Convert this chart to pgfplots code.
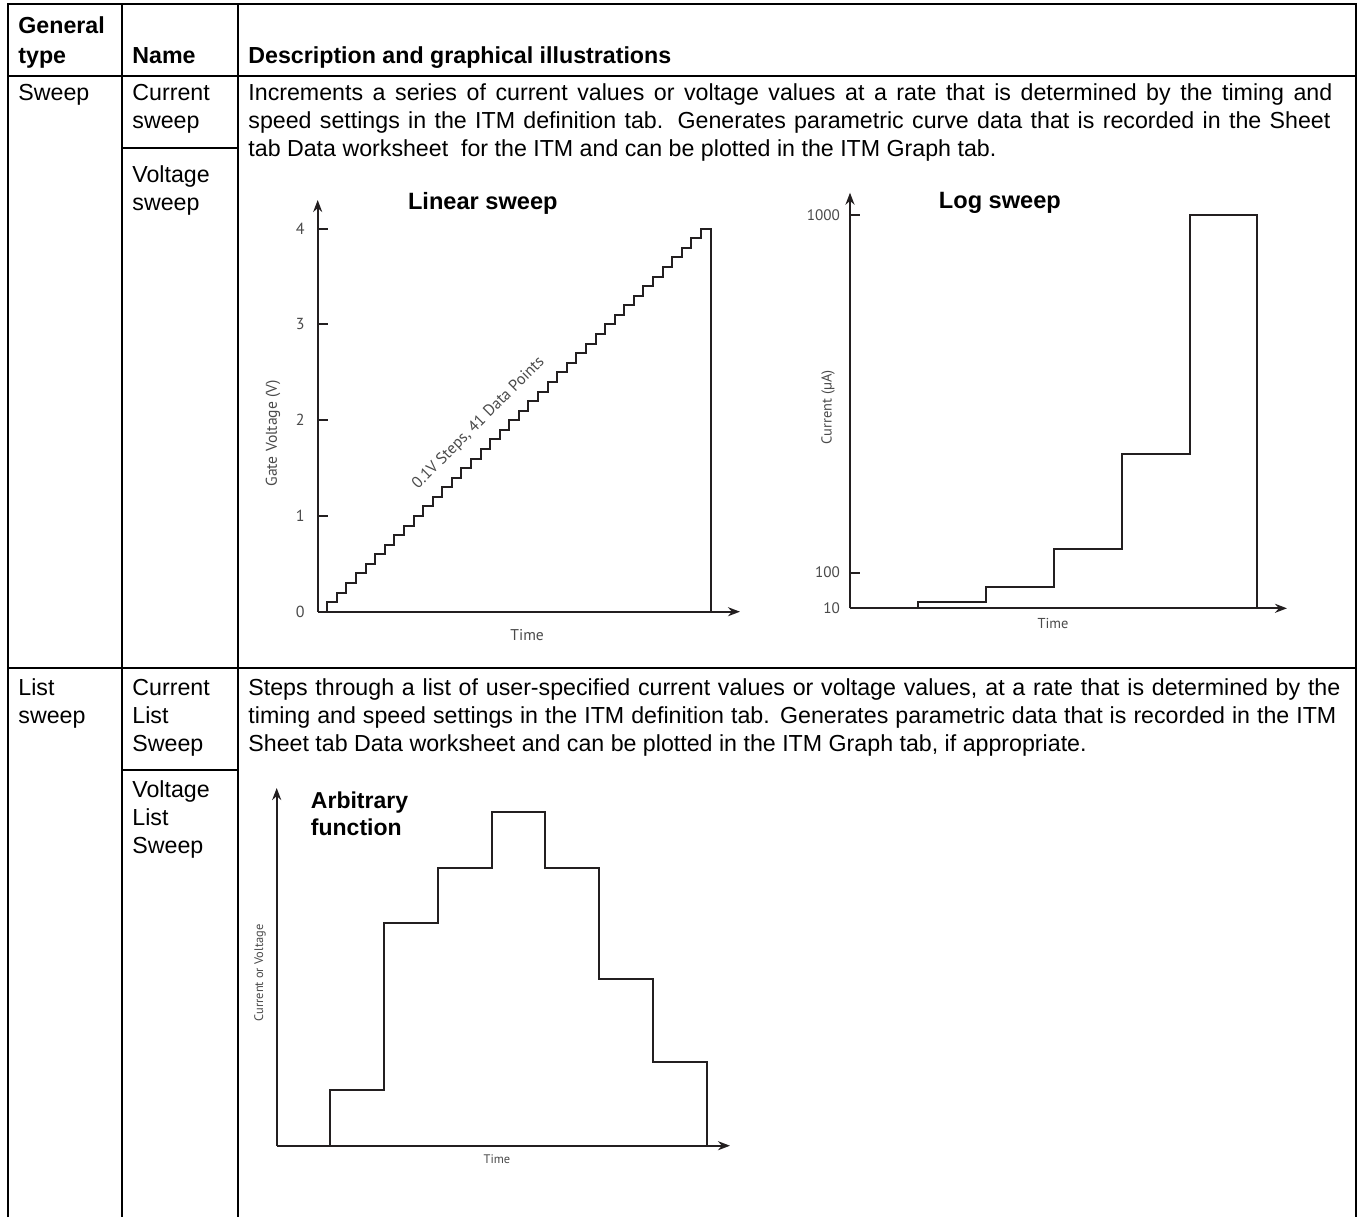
\documentclass[border=0pt]{standalone}
\usepackage{pgfplots}
\pgfplotsset{compat=1.18}
\usetikzlibrary{arrows.meta}
\usepackage{fontspec}
\setmainfont{Liberation Sans}
\newfontfamily\plotfont{PT Sans}
\definecolor{ink}{HTML}{231F20}
\definecolor{lbl}{HTML}{4A4A4A}
\newcommand{\body}{\fontsize{11.6}{14}\selectfont}
\newcommand{\jline}[2][543pt]{\makebox[#1][s]{#2}}
\pgfplotsset{
  stairaxis/.style={
    scale only axis, anchor=south west, clip=false,
    axis lines=left,
    axis line style={line width=1pt, ink},
    every outer x axis line/.append style={-{Stealth[length=6pt,width=4.5pt]}},
    every outer y axis line/.append style={-{Stealth[length=6pt,width=4.5pt]}},
    tick align=inside, major tick length=5pt,
    tick style={line width=1pt, ink},
    /pgf/number format/assume math mode=true,
    xtick=\empty,
    xlabel={Time},
  }
}
\begin{document}
\begin{tikzpicture}
\begin{scope}[x=0.5pt,y=-0.5pt]
\fill[white] (0,0) rectangle (1361,1217);
\path[use as bounding box] (0,0) rectangle (1361,1217);
% table rules
\draw[line width=1pt, line join=miter] (8,1217) -- (8,4) -- (1356,4) -- (1356,1217);
\draw[line width=1pt] (8,76) -- (1356,76);
\draw[line width=1pt] (8,668) -- (1356,668);
\draw[line width=1pt] (122,4) -- (122,1217);
\draw[line width=1pt] (238,4) -- (238,1217);
\draw[line width=1pt] (122,148) -- (238,148);
\draw[line width=1pt] (122,770) -- (238,770);
% header
\begin{scope}[every node/.style={anchor=base west, inner sep=0pt, font=\body\bfseries}]
\node at (18,33) {General};
\node at (18,63) {type};
\node at (132,63) {Name};
\node at (248,63) {Description and graphical illustrations};
\end{scope}
% body
\begin{scope}[every node/.style={anchor=base west, inner sep=0pt, font=\body}]
\node at (18,100) {Sweep};
\node at (132,100) {Current};
\node at (132,128) {sweep};
\node at (132,182) {Voltage};
\node at (132,210) {sweep};
\node at (248,100) {\jline[542pt]{Increments a series of current values or voltage values at a rate that is determined by the timing and}};
\node at (248,128) {\jline[541pt]{speed settings in the ITM definition tab. Generates parametric curve data that is recorded in the Sheet}};
\node at (248,156) {tab Data worksheet\ \ for the ITM and can be plotted in the ITM Graph tab.};
\node at (18,695) {List};
\node at (18,723) {sweep};
\node at (132,695) {Current};
\node at (132,723) {List};
\node at (132,751) {Sweep};
\node at (132,797) {Voltage};
\node at (132,825) {List};
\node at (132,853) {Sweep};
\node at (248,695) {\jline[546pt]{Steps through a list of user-specified current values or voltage values, at a rate that is determined by the}};
\node at (248,723) {\jline[544pt]{timing and speed settings in the ITM definition tab. Generates parametric data that is recorded in the ITM}};
\node at (248,751) {Sheet tab Data worksheet and can be plotted in the ITM Graph tab, if appropriate.};
\end{scope}
\end{scope}

% Linear sweep
\begin{axis}[stairaxis,
  at={(158.85pt,-305.85pt)}, width=211.15pt, height=205.85pt,
  xmin=0, xmax=44.08, ymin=0, ymax=4.30,
  ytick={0,1,2,3,4},
  yticklabel style={font=\plotfont\fontsize{8}{9}\selectfont, text=lbl, xshift=-3pt},
  ylabel={Gate Voltage (V)},
  label style={font=\plotfont\fontsize{7.8}{9}\selectfont, text=lbl},
  xlabel style={at={(axis description cs:0.496,-0.0566)}, anchor=center},
  ylabel style={at={(axis description cs:-0.106,0.434)}, anchor=center},
  title={Linear sweep},
  title style={at={(axis description cs:0.391,0.993)}, anchor=center, yshift=-6pt, font=\bfseries\fontsize{11.8}{14}\selectfont},
]
\addplot[const plot, line width=1pt, ink] coordinates {
(0,0) (1,0.1) (2,0.2) (3,0.3) (4,0.4) (5,0.5) (6,0.6) (7,0.7) (8,0.8) (9,0.9)
(10,1.0) (11,1.1) (12,1.2) (13,1.3) (14,1.4) (15,1.5) (16,1.6) (17,1.7) (18,1.8) (19,1.9)
(20,2.0) (21,2.1) (22,2.2) (23,2.3) (24,2.4) (25,2.5) (26,2.6) (27,2.7) (28,2.8) (29,2.9)
(30,3.0) (31,3.1) (32,3.2) (33,3.3) (34,3.4) (35,3.5) (36,3.6) (37,3.7) (38,3.8) (39,3.9)
(40,4.0) (41,4.0) (41,0)};
\node[rotate=45, font=\plotfont\fontsize{8}{9}\selectfont, text=lbl] at (axis cs:16.8,1.97) {0.1V Steps, 41 Data Points};
\end{axis}

% Log sweep
\begin{axis}[stairaxis,
  at={(425pt,-304.15pt)}, width=218.5pt, height=207.8pt,
  xmin=0, xmax=6.436, ymin=10, ymax=1056,
  ytick={10,100,1000}, yticklabels={10,100,1000}, scaled y ticks=false,
  yticklabel style={font=\plotfont\fontsize{7.6}{8}\selectfont, text=lbl, xshift=-1.5pt},
  ylabel={Current (µA)},
  label style={font=\plotfont\fontsize{7.2}{9}\selectfont, text=lbl},
  xlabel style={at={(axis description cs:0.4645,-0.0354)}, anchor=center},
  ylabel style={at={(axis description cs:-0.0503,0.484)}, anchor=center},
  title={Log sweep},
  title style={at={(axis description cs:0.343,0.975)}, anchor=center, yshift=-6pt, font=\bfseries\fontsize{11.8}{14}\selectfont},
]
\addplot[const plot, line width=1pt, ink] coordinates {
(0,10) (1,25.12) (2,63.10) (3,158.49) (4,398.11) (5,1000) (6,1000) (6,10)};
\end{axis}

% Arbitrary function
\begin{axis}[stairaxis,
  at={(138.35pt,-572.85pt)}, width=226.65pt, height=178.85pt,
  xmin=0, xmax=8.433, ymin=0, ymax=6.43,
  ytick=\empty,
  ylabel={Current or Voltage},
  label style={font=\plotfont\fontsize{6.2}{7}\selectfont, text=lbl},
  xlabel style={at={(axis description cs:0.486,-0.037)}, anchor=center},
  ylabel style={at={(axis description cs:-0.0368,0.483)}, anchor=center},
  title={Arbitrary\\function},
  title style={at={(axis description cs:0.060,0.929)}, anchor=west, yshift=-6pt, align=left, font=\bfseries\fontsize{11.5}{13.5}\selectfont},
]
\addplot[const plot, line width=1pt, ink] coordinates {
(0,0) (1,1) (2,4) (3,5) (4,6) (5,5) (6,3) (7,1.5) (8,1.5) (8,0)};
\end{axis}
\end{tikzpicture}
\end{document}
